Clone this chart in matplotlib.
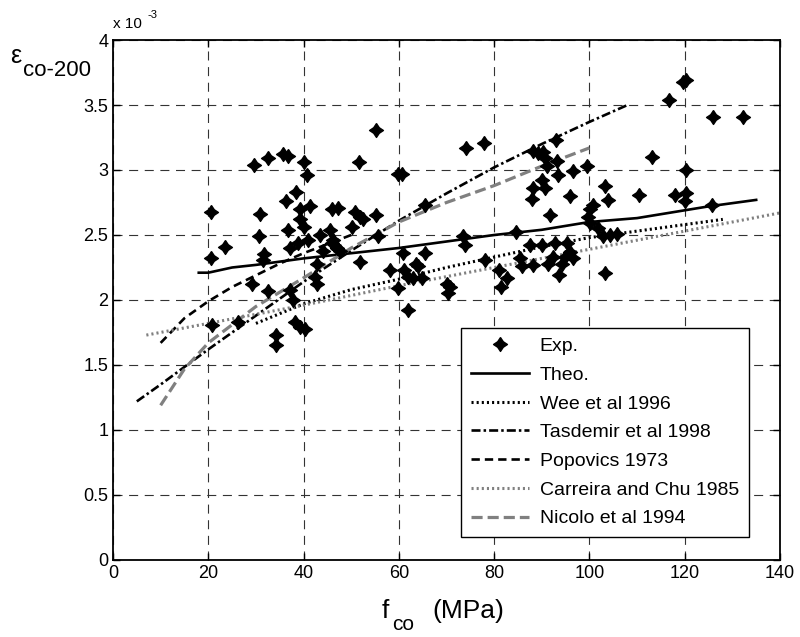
import numpy as np
import matplotlib
matplotlib.use('Agg')
import matplotlib.pyplot as plt

plt.rcParams['font.family'] = ['Liberation Sans', 'DejaVu Sans']
plt.rcParams['lines.scale_dashes'] = False

# experimental points, fco (MPa) and strain (x 10^-3)
exp_f = [20.6, 29.6, 32.6, 35.7, 36.8, 40.1, 40.8, 38.4, 36.4, 39.3, 41.4, 45.9, 47.3,
         30.9, 39.3, 40.0, 36.8, 30.6, 23.5, 20.6, 31.6, 31.4, 37.2, 38.9, 41.0, 43.5,
         45.5, 46.2, 44.1, 42.8, 42.4, 42.8, 29.1, 32.6, 37.2, 37.8, 20.7, 26.3, 38.2,
         39.3, 40.3, 34.2, 34.2,
         55.2, 51.7, 59.9, 60.6, 74.0, 77.9, 50.8, 51.8, 52.5, 55.2, 50.1, 65.5, 45.9,
         55.7, 47.0, 47.6, 51.8, 60.9, 65.5, 58.1, 61.0, 63.7, 64.0, 62.0, 63.0, 64.8,
         59.9, 70.0, 70.7, 70.4, 62.0, 73.5, 73.9,
         93.0, 88.2, 89.3, 90.3, 90.7, 91.0, 93.1, 93.5, 96.6, 99.4, 90.0, 90.7, 88.2,
         87.9, 95.9, 103.3, 104.0, 91.7, 100.1, 100.8, 99.8, 100.1, 101.9, 102.9, 104.3,
         105.7, 84.6, 87.5, 90.0, 92.8, 95.2, 95.9, 96.6, 85.4, 85.8, 88.2, 91.3, 92.4,
         94.2, 94.9, 78.1, 81.1, 82.6, 81.4, 93.7, 103.3,
         120.3, 119.6, 116.6, 126.0, 132.2, 113.1, 120.3, 110.3, 118.0, 120.3, 120.1, 125.7]
exp_e = [2.68, 3.04, 3.09, 3.12, 3.11, 3.06, 2.96, 2.83, 2.76, 2.70, 2.72, 2.70, 2.71,
         2.66, 2.62, 2.56, 2.54, 2.49, 2.41, 2.32, 2.35, 2.31, 2.40, 2.44, 2.46, 2.50,
         2.54, 2.46, 2.38, 2.28, 2.18, 2.12, 2.12, 2.07, 2.08, 2.00, 1.81, 1.83, 1.83,
         1.79, 1.78, 1.73, 1.65,
         3.31, 3.06, 2.97, 2.97, 3.17, 3.21, 2.68, 2.64, 2.62, 2.65, 2.56, 2.73, 2.44,
         2.49, 2.40, 2.38, 2.29, 2.36, 2.36, 2.23, 2.23, 2.28, 2.26, 2.18, 2.17, 2.17,
         2.09, 2.12, 2.10, 2.05, 1.92, 2.49, 2.42,
         3.23, 3.15, 3.13, 3.14, 3.09, 3.03, 3.07, 2.96, 2.99, 3.03, 2.92, 2.86, 2.86,
         2.78, 2.80, 2.88, 2.77, 2.65, 2.70, 2.73, 2.64, 2.59, 2.55, 2.49, 2.50,
         2.51, 2.52, 2.42, 2.42, 2.44, 2.44, 2.37, 2.32, 2.32, 2.26, 2.27, 2.28, 2.33,
         2.28, 2.33, 2.31, 2.23, 2.17, 2.10, 2.19, 2.21,
         3.69, 3.68, 3.54, 3.41, 3.41, 3.10, 3.00, 2.81, 2.81, 2.82, 2.76, 2.73]

theo_f = [18, 20, 25, 30, 40, 50, 60, 70, 80, 90, 100, 110, 120, 125, 135]
theo_e = [2.21, 2.21, 2.25, 2.27, 2.32, 2.36, 2.40, 2.45, 2.50, 2.54, 2.60, 2.63, 2.69, 2.72, 2.77]

wee_f = [30, 40, 50, 60, 70, 80, 90, 100, 110, 120, 128]
wee_e = [1.82, 1.97, 2.08, 2.16, 2.25, 2.33, 2.41, 2.48, 2.53, 2.58, 2.62]

tas_f = [5, 10, 20, 30, 40, 50, 60, 70, 80, 90, 100, 108]
tas_e = [1.22, 1.35, 1.62, 1.88, 2.14, 2.38, 2.61, 2.82, 3.02, 3.20, 3.37, 3.50]

pop_f = [10, 15, 20, 25, 30, 35, 40, 45, 50]
pop_e = [1.67, 1.86, 1.99, 2.10, 2.19, 2.28, 2.36, 2.43, 2.50]

car_f = [7, 20, 40, 60, 80, 100, 120, 140]
car_e = [1.73, 1.82, 1.96, 2.11, 2.25, 2.39, 2.53, 2.67]

nic_f = [10, 15, 20, 30, 40, 50, 60, 70, 80, 90, 100]
nic_e = [1.19, 1.47, 1.67, 1.95, 2.17, 2.40, 2.60, 2.75, 2.88, 3.03, 3.17]

fig = plt.figure(figsize=(8, 6.37), dpi=100)
ax = fig.add_axes([0.14125, 0.1209, 0.83375, 0.8163])

star = [(0, 1), (0.4, 0.4), (1, 0), (0.4, -0.4), (0, -1), (-0.4, -0.4), (-1, 0), (-0.4, 0.4), (0, 1)]
gray = '0.5'

ax.plot(exp_f, exp_e, ls='none', marker=star, ms=10, color='k', mec='k', label='Exp.', zorder=5)
ax.plot(theo_f, theo_e, '-', color='k', lw=1.9, label='Theo.')
ax.plot(wee_f, wee_e, color='k', lw=2.2, ls=(0, (1.5, 2.2)), label='Wee et al 1996')
ax.plot(tas_f, tas_e, color='k', lw=1.9, ls=(0, (6.5, 2.2, 1.8, 2.2)), label='Tasdemir et al 1998')
ax.plot(pop_f, pop_e, color='k', lw=1.9, ls=(0, (6, 3.6)), label='Popovics 1973')
ax.plot(car_f, car_e, color=gray, lw=2.2, ls=(0, (1.5, 2.2)), label='Carreira and Chu 1985')
ax.plot(nic_f, nic_e, color=gray, lw=2.3, ls=(0, (8, 3.6)), label='Nicolo et al 1994')

ax.set_xlim(0, 140)
ax.set_ylim(0, 4)
ax.set_xticks(np.arange(0, 141, 20))
ax.set_yticks(np.arange(0, 4.01, 0.5))
ax.set_yticklabels(['0', '0.5', '1', '1.5', '2', '2.5', '3', '3.5', '4'])
ax.tick_params(direction='in', top=True, right=True, labelsize=13, length=5, width=1)
ax.grid(True, color='0.2', lw=0.8, ls=(0, (6.5, 4.75)))
for s in ax.spines.values():
    s.set_linewidth(1.3)

leg = ax.legend(loc='lower right', bbox_to_anchor=(0.953, 0.044), borderaxespad=0,
                fontsize=14, handlelength=3.0, handletextpad=0.55, labelspacing=0.57,
                borderpad=0.5, fancybox=False, framealpha=1, edgecolor='k')
leg.get_frame().set_linewidth(1.0)

# exponent text and axis labels
fig.text(113 / 800, 1 - 28 / 637, 'x 10', fontsize=11)
fig.text(148 / 800, 1 - 18 / 637, '-3', fontsize=8)
fig.text(10 / 800, 1 - 63 / 637, 'ε', fontsize=18)
fig.text(23 / 800, 1 - 76 / 637, 'co-200', fontsize=16)
fig.text(382 / 800, 1 - 618 / 637, 'f', fontsize=19)
fig.text(392 / 800, 1 - 630 / 637, 'co', fontsize=15)
fig.text(432 / 800, 1 - 618 / 637, '(MPa)', fontsize=19)

fig.savefig('out.png', dpi=100)
